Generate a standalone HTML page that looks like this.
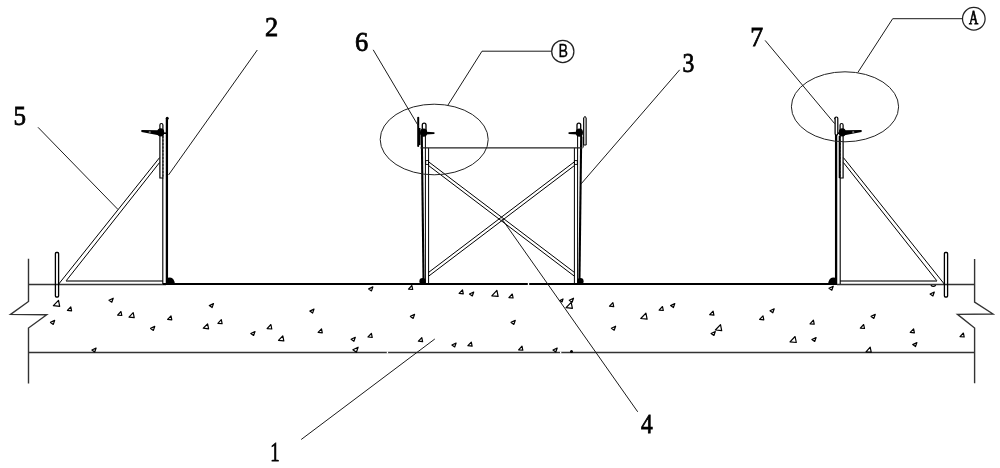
<!DOCTYPE html>
<html><head><meta charset="utf-8">
<style>
html,body{margin:0;padding:0;background:#fff;}
body{width:1000px;height:468px;overflow:hidden;}
svg{display:block;will-change:transform;}

text{font-family:"Liberation Serif",serif;fill:#000;stroke:#000;stroke-width:0.8px;}
</style></head>
<body>
<svg width="1000" height="468" viewBox="0 0 1000 468">
<defs>
<g id="sup" stroke="#000" fill="none">
  <rect x="55.4" y="252.5" width="3.2" height="44.5" rx="1" stroke-width="1.3"/>
  <line x1="58.5" y1="284.3" x2="159.6" y2="157.6" stroke-width="1"/>
  <line x1="66" y1="281" x2="159.6" y2="162.5" stroke-width="1"/>
  <line x1="66" y1="281" x2="163" y2="281" stroke="#444" stroke-width="1.4"/>
  <path d="M159.9,178 V125 A1.5,1.5 0 0 1 162.9,125 V178 Z" stroke-width="1.2"/>
  <line x1="163" y1="136" x2="163" y2="178" stroke-width="0.8" stroke-dasharray="2,1.5"/>
  <line x1="162.8" y1="178" x2="162.8" y2="284" stroke-width="1.1"/>
  <line x1="166.9" y1="119" x2="166.9" y2="284" stroke-width="2.3"/>
  <circle cx="167.2" cy="118.2" r="1.5" fill="#000" stroke="none"/>
  <ellipse cx="160.7" cy="132.4" rx="3.5" ry="4.1" fill="#000" stroke="none"/>
  <path d="M141.5,130 Q141,131 141.5,132 L158.5,135.2 L158.5,130.2 Z" fill="#000" stroke="none"/>
  <ellipse cx="149.8" cy="132" rx="1.4" ry="0.45" fill="#fff" stroke="none"/>
  <line x1="161" y1="133.2" x2="166" y2="133.2" stroke-width="1.6"/>
  <path d="M166,284.5 V278.2 Q166.5,277.6 170,277.6 Q174.6,278 174.8,284.5 Z" fill="#000" stroke="none"/>
</g>
<g id="scf" stroke="#000" fill="none">
  <path d="M422.3,134 V125 A1.85,1.85 0 0 1 426,125 V134" stroke-width="1.3"/>
  <ellipse cx="423.6" cy="132.7" rx="3.6" ry="4.1" fill="#000" stroke="none"/>
  <path d="M426,131.8 L434.2,132.2 Q435.2,133 434.2,134 L426,134.5 Z" fill="#000" stroke="none"/>
  <line x1="421.8" y1="136" x2="423.6" y2="284" stroke-width="2.1"/>
  <line x1="425.4" y1="136" x2="425.4" y2="284" stroke-width="1"/>
  <line x1="428.6" y1="147.9" x2="428.6" y2="284" stroke-width="1"/>
  <rect x="425.7" y="160.6" width="2.9" height="3.8" stroke-width="0.9"/>
  <circle cx="422.6" cy="281.2" r="3.2" fill="#000" stroke="none"/>
</g>
</defs>

<!-- break lines -->
<g stroke="#333" stroke-width="1.4" fill="none">
  <polyline points="28.5,258.7 28.5,301.5 10.6,314.4 46.7,314.8 28.5,328 28.5,383.5"/>
  <polyline points="974.6,259 974.6,302 993,314 957.5,314.4 974.6,328 974.6,383.3"/>
  <line x1="28.5" y1="352.5" x2="974.6" y2="352.5" stroke-width="1.3"/>
</g>
<line x1="28.5" y1="284.5" x2="166" y2="284.5" stroke="#333" stroke-width="1.4"/>
<line x1="837" y1="284.5" x2="974.6" y2="284.5" stroke="#333" stroke-width="1.4"/>
<line x1="163" y1="284.1" x2="837" y2="284.1" stroke="#000" stroke-width="2"/>

<g fill="#fff"><rect x="527.8" y="282.6" width="1.4" height="3"/><rect x="386.8" y="351.4" width="1.3" height="2.2"/><rect x="560" y="351.4" width="1.3" height="2.2"/></g>
<use href="#sup"/>
<use href="#sup" transform="translate(1003,0) scale(-1,1)"/>
<use href="#scf"/>
<use href="#scf" transform="translate(1003,0) scale(-1,1)"/>
<rect x="417.2" y="116.7" width="2" height="30.3" rx="1" fill="#000"/>
<path d="M418,128 L420.5,128 L420.5,145 L418,145 Z" fill="#000"/>
<path d="M583.6,145 V118 L585,116.3 L586.2,118 V145 Z" fill="#ccc" stroke="#000" stroke-width="1"/>
<line x1="583.2" y1="137" x2="583.2" y2="147.5" stroke="#000" stroke-width="1"/>
<line x1="839.5" y1="136" x2="839.5" y2="178" stroke="#000" stroke-width="1.6"/>
<rect x="835.1" y="117" width="2.7" height="18" rx="1.35" fill="#fff" stroke="#000" stroke-width="1.2"/>

<!-- scaffold beam and braces -->
<g stroke="#000" stroke-width="1" fill="none">
  <line x1="420.5" y1="147.9" x2="582.5" y2="147.9" stroke="#222" stroke-width="1.3"/>
  <line x1="428.6" y1="161.8" x2="574.4" y2="272.4"/>
  <line x1="428.6" y1="165.6" x2="574.4" y2="276.2"/>
  <line x1="574.4" y1="161.8" x2="428.6" y2="272.4"/>
  <line x1="574.4" y1="165.6" x2="428.6" y2="276.2"/>
</g>

<!-- ellipses -->
<g stroke="#222" stroke-width="1" fill="none">
  <ellipse cx="434.2" cy="139.5" rx="54" ry="35.3"/>
  <ellipse cx="845" cy="106.8" rx="53.6" ry="35"/>
  <circle cx="562.8" cy="51.4" r="11.1" stroke-width="1.25"/>
  <circle cx="973.8" cy="18.7" r="11.3" stroke-width="1.25"/>
</g>

<!-- leader lines -->
<g stroke="#1a1a1a" stroke-width="1" fill="none">
  <line x1="38" y1="127.3" x2="118" y2="209.5"/>
  <line x1="257.3" y1="50" x2="168.5" y2="175"/>
  <line x1="373.2" y1="49.8" x2="418.4" y2="126"/>
  <polyline points="551.7,51.2 482,51.2 447.8,105.3"/>
  <line x1="679.7" y1="69.8" x2="581" y2="184"/>
  <line x1="765.1" y1="40.4" x2="834.7" y2="123.7"/>
  <polyline points="962.5,18.7 892.7,18.7 857.9,72.4"/>
  <line x1="301.2" y1="439.5" x2="434.8" y2="339"/>
  <line x1="501.8" y1="218.8" x2="637.7" y2="411.8"/>
</g>

<!-- labels -->
<g font-size="27.5">
  <text x="12.85" y="125.5" transform="translate(19.85,0) scale(0.91,1) translate(-19.85,0)">5</text>
  <text x="264.85" y="36.1" transform="translate(271.85,0) scale(0.96,1) translate(-271.85,0)">2</text>
  <text x="354.75" y="50.6" transform="translate(361.75,0) scale(0.96,1) translate(-361.75,0)">6</text>
  <text x="681.5" y="72.4" transform="translate(688.5,0) scale(0.86,1) translate(-688.5,0)">3</text>
  <text x="749.95" y="45.9" transform="translate(756.95,0) scale(0.94,1) translate(-756.95,0)">7</text>
  <text x="267.95" y="461.3" transform="translate(274.95,0) scale(0.68,1) translate(-274.95,0)">1</text>
  <text x="639.85" y="433.5" transform="translate(646.85,0) scale(0.85,1) translate(-646.85,0)">4</text>
</g>
<text x="563.3" y="56.9" font-size="17.8" text-anchor="middle" style="font-family:'Liberation Sans',sans-serif;stroke-width:0.35px" transform="translate(563.3,0) scale(0.8,1) translate(-563.3,0)">B</text>
<text x="973.65" y="23.9" font-size="18" text-anchor="middle" transform="translate(973.65,0) scale(0.71,1) translate(-973.65,0)">A</text>

<!-- aggregate triangles -->
<g id="agg" stroke="#000" stroke-width="1.2" fill="none" stroke-linejoin="round">
<circle cx="571.5" cy="351.6" r="0.9" fill="#000"/>
<path d="M930.8,285.3 Q933.3,287.6 935.8,285.3"/>
<path d="M58.5,300.3 L53.4,305.7 L59.7,306.3 Z"/>
<path d="M70.8,306.8 L67.4,310.4 L71.6,310.8 Z"/>
<path d="M50.5,322.4 L54.7,320.4 L53.3,324.4 Z"/>
<path d="M109.0,300.2 L113.2,298.2 L111.8,302.2 Z"/>
<path d="M121.0,311.5 L117.6,315.1 L121.8,315.5 Z"/>
<path d="M91.9,350.0 L96.1,348.0 L94.7,352.0 Z"/>
<path d="M133.2,312.6 L129.0,317.1 L134.2,317.6 Z"/>
<path d="M150.6,328.4 L154.8,326.4 L153.4,330.4 Z"/>
<path d="M171.0,315.8 L167.6,319.4 L171.8,319.8 Z"/>
<path d="M209.3,305.6 L213.5,303.6 L212.1,307.6 Z"/>
<path d="M207.6,323.8 L203.3,328.2 L208.6,328.8 Z"/>
<path d="M221.3,319.7 L217.9,323.3 L222.1,323.7 Z"/>
<path d="M250.8,333.5 L255.0,331.5 L253.6,335.5 Z"/>
<path d="M270.9,324.5 L267.1,328.6 L271.8,329.0 Z"/>
<path d="M282.8,335.9 L278.5,340.4 L283.8,340.9 Z"/>
<path d="M309.8,311.1 L314.0,309.1 L312.6,313.1 Z"/>
<path d="M368.7,288.9 L372.9,286.9 L371.5,290.9 Z"/>
<path d="M321.5,328.8 L318.1,332.4 L322.3,332.8 Z"/>
<path d="M351.1,339.3 L355.3,337.3 L353.9,341.3 Z"/>
<path d="M371.4,333.4 L368.0,337.0 L372.2,337.4 Z"/>
<path d="M352.9,349.7 L358.1,347.2 L356.4,352.2 Z"/>
<path d="M411.9,285.5 L408.5,289.1 L412.7,289.5 Z"/>
<path d="M462.5,289.8 L459.1,293.4 L463.3,293.8 Z"/>
<path d="M469.5,294.0 L473.7,292.0 L472.3,296.0 Z"/>
<path d="M410.4,316.4 L414.6,314.4 L413.2,318.4 Z"/>
<path d="M421.8,337.6 L418.4,341.2 L422.6,341.6 Z"/>
<path d="M451.9,345.0 L456.1,343.0 L454.7,347.0 Z"/>
<path d="M471.3,342.1 L467.9,345.7 L472.1,346.1 Z"/>
<path d="M496.9,290.4 L491.8,295.8 L498.1,296.4 Z"/>
<path d="M512.3,294.0 L508.9,297.6 L513.1,298.0 Z"/>
<path d="M559.9,300.5 L563.0,299.0 L562.0,302.0 Z"/>
<path d="M569.3,300.2 L573.5,298.2 L572.1,302.2 Z"/>
<path d="M571.2,302.3 L566.1,307.7 L572.4,308.3 Z"/>
<path d="M511.1,322.4 L515.3,320.4 L513.9,324.4 Z"/>
<path d="M522.0,346.2 L518.6,349.8 L522.8,350.2 Z"/>
<path d="M553.0,350.0 L557.2,348.0 L555.8,352.0 Z"/>
<path d="M612.9,302.6 L609.5,306.2 L613.7,306.6 Z"/>
<path d="M645.9,313.1 L640.8,318.5 L647.1,319.1 Z"/>
<path d="M662.5,306.5 L659.1,310.1 L663.3,310.5 Z"/>
<path d="M611.4,328.2 L615.6,326.2 L614.2,330.2 Z"/>
<path d="M670.6,305.6 L674.8,303.6 L673.4,307.6 Z"/>
<path d="M713.1,311.1 L709.7,314.7 L713.9,315.1 Z"/>
<path d="M720.5,324.6 L715.4,330.0 L721.7,330.6 Z"/>
<path d="M711.1,333.5 L715.3,331.5 L713.9,335.5 Z"/>
<path d="M829.0,288.2 L833.2,286.2 L831.8,290.2 Z"/>
<path d="M770.0,310.8 L774.2,308.8 L772.8,312.8 Z"/>
<path d="M763.0,315.8 L759.6,319.4 L763.8,319.8 Z"/>
<path d="M813.4,320.2 L810.0,323.8 L814.2,324.2 Z"/>
<path d="M795.1,336.5 L790.0,341.9 L796.3,342.5 Z"/>
<path d="M811.9,339.5 L816.1,337.5 L814.7,341.5 Z"/>
<path d="M930.1,294.0 L934.3,292.0 L932.9,296.0 Z"/>
<path d="M871.1,316.4 L875.3,314.4 L873.9,318.4 Z"/>
<path d="M863.7,324.5 L860.3,328.1 L864.5,328.5 Z"/>
<path d="M913.6,328.8 L910.2,332.4 L914.4,332.8 Z"/>
<path d="M912.7,344.6 L916.9,342.6 L915.5,346.6 Z"/>
<path d="M870.2,347.2 L866.0,351.8 L871.2,352.2 Z"/>
<path d="M963.4,333.0 L960.0,336.6 L964.2,337.0 Z"/>

</g>
</svg>
</body></html>
